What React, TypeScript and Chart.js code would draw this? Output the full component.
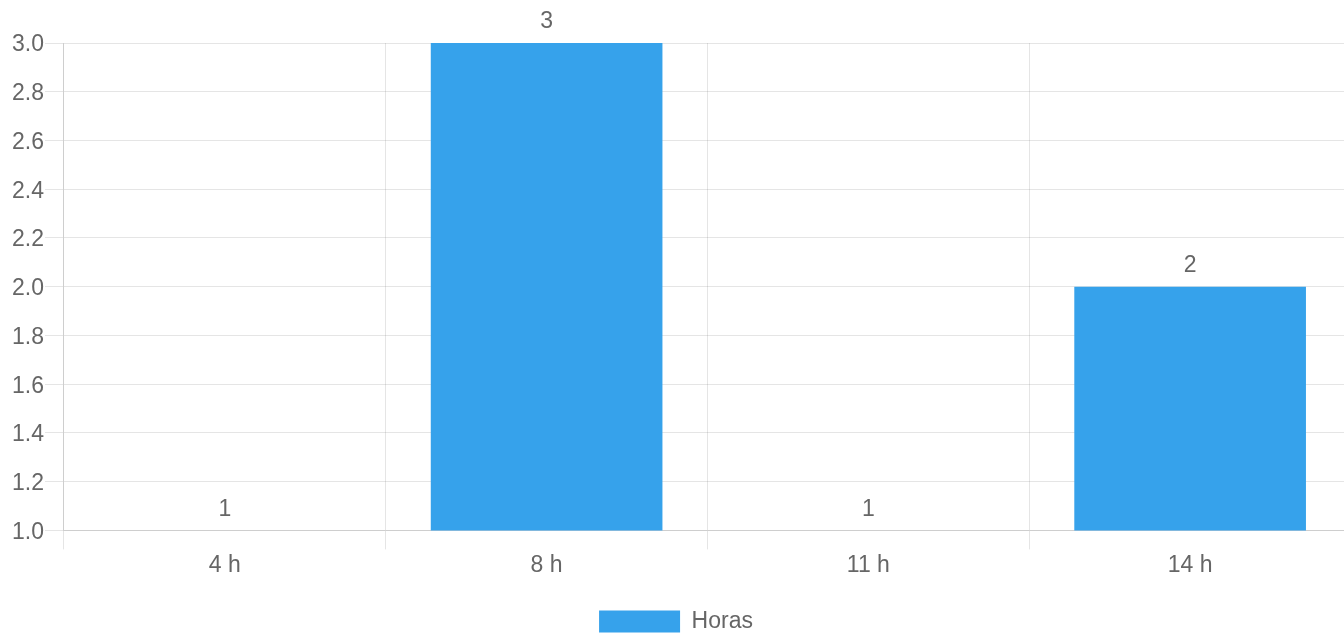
import React, { useEffect, useRef } from "react";
import { Chart, registerables } from "chart.js";

Chart.register(...registerables);

const categories: string[] = ["4 h", "8 h", "11 h", "14 h"];
const horasValues: number[] = [1, 3, 1, 2];
const seriesLabel = "Horas";
const yMin = 1;
const yMax = 3;
const yStep = 0.2;

const FONT = "'Liberation Sans', Arial, Helvetica, sans-serif";
const FS = 23;
const TEXT = "#666666";
const GRID = "rgba(0,0,0,0.1)";
const BAR = "rgb(54,162,235)";

const valueLabels = {
  id: "valueLabels",
  afterDatasetsDraw(chart: any) {
    const ctx = chart.ctx;
    ctx.save();
    ctx.font = `${FS}px ${FONT}`;
    ctx.fillStyle = TEXT;
    ctx.textAlign = "center";
    ctx.textBaseline = "middle";
    chart.data.datasets.forEach((ds: any, di: number) => {
      const meta = chart.getDatasetMeta(di);
      meta.data.forEach((el: any, i: number) => {
        ctx.fillText(String(ds.data[i]), el.x, el.y - 21);
      });
    });
    ctx.restore();
  },
};

const legendShift = {
  id: "legendShift",
  afterLayout(chart: any) {
    if (chart.legend) {
      chart.legend.right -= 10;
    }
  },
};

export default function App() {
  const ref = useRef<HTMLCanvasElement | null>(null);

  useEffect(() => {
    if (!ref.current) return;
    const chart = new Chart(ref.current, {
      type: "bar",
      data: {
        labels: categories,
        datasets: [
          {
            label: seriesLabel,
            data: horasValues,
            backgroundColor: (c: any) =>
              c.raw !== undefined && c.raw <= yMin ? "rgba(0,0,0,0)" : BAR,
            borderWidth: 0,
            categoryPercentage: 0.8,
            barPercentage: 0.9,
          },
        ],
      },
      options: {
        responsive: false,
        animation: false,
        layout: { padding: { top: 35, left: 3, right: 0, bottom: 0 } },
        font: { family: FONT, size: FS },
        color: TEXT,
        plugins: {
          legend: {
            position: "bottom",
            labels: {
              boxWidth: 81,
              boxHeight: 22,
              padding: 29,
              color: TEXT,
              font: { family: FONT, size: FS },
              generateLabels: () => [
                {
                  text: seriesLabel,
                  fillStyle: BAR,
                  strokeStyle: BAR,
                  lineWidth: 0,
                  hidden: false,
                  datasetIndex: 0,
                  fontColor: TEXT,
                },
              ],
            },
          },
          tooltip: { enabled: false },
        },
        scales: {
          x: {
            grid: { color: GRID, offset: true, tickLength: 19, drawTicks: true },
            border: { color: GRID },
            ticks: { color: TEXT, font: { family: FONT, size: FS }, padding: 2 },
          },
          y: {
            min: yMin,
            max: yMax,
            grid: { color: GRID, tickLength: 19 },
            border: { color: GRID },
            ticks: {
              stepSize: yStep,
              color: TEXT,
              padding: 1,
              labelOffset: 2,
              font: { family: FONT, size: FS },
              callback: (v: any) => Number(v).toFixed(1),
            },
          },
        },
      },
      plugins: [valueLabels, legendShift],
    });
    return () => chart.destroy();
  }, []);

  return (
    <div
      style={{
        position: "fixed",
        left: 8,
        top: 8,
        width: 1336,
        height: 626,
        overflow: "hidden",
      }}
    >
      <canvas ref={ref} width={1343} height={635} style={{ display: "block" }} />
    </div>
  );
}
